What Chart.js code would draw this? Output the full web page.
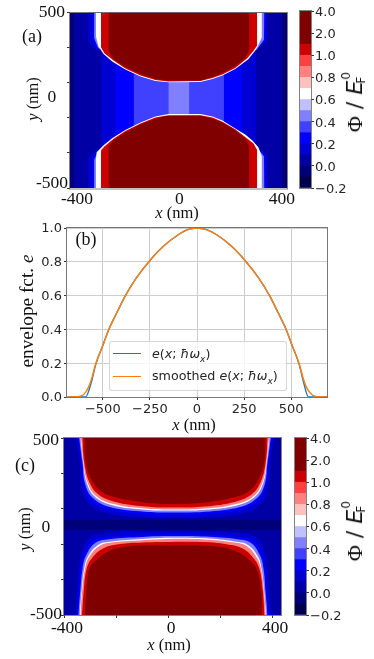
<!DOCTYPE html>
<html><head><meta charset="utf-8">
<script src="https://cdn.jsdelivr.net/npm/chart.js@4"></script>
<style>
html,body{margin:0;padding:0;background:#fff;width:374px;height:659px;overflow:hidden}
#page{position:absolute;left:0;top:0;width:374px;height:659px;filter:blur(.6px)}
canvas{position:absolute;left:0;top:0}
.t{position:absolute;white-space:nowrap;transform:translate(-50%,-50%);color:#111;font-family:"Liberation Serif",serif;line-height:1}
.r{transform:translate(-50%,-50%) rotate(-90deg)}
.s16{font-size:16.5px}.s18{font-size:18px}.s19{font-size:19.3px}
.phi{font-size:22px;font-family:"DejaVu Sans",sans-serif}
.phi b{font-weight:normal;font-family:"Liberation Serif",serif}
.phi i{font-style:italic}
.phi .f{display:inline-block;position:relative;width:9px;height:1em}
.phi .f span{position:absolute;font-size:12px;font-style:normal}
#legend{position:absolute;left:109px;top:341px;width:176px;height:48px;background:rgba(255,255,255,.8);border:1px solid rgba(204,204,204,.8);border-radius:3px}
#legend div{position:absolute;left:42px;font:12.7px "DejaVu Sans",sans-serif;color:#262626;white-space:nowrap;line-height:1}
#legend span.k{position:absolute;left:3px;width:28px;height:1.4px}
#legend sub{font-size:9px;line-height:0;font-style:italic}
</style></head><body>
<div id="page">
<canvas id="a" width="374" height="659"></canvas>
<canvas id="ab" width="374" height="659"></canvas>
<canvas id="b" width="374" height="659"></canvas>
<canvas id="c" width="374" height="659"></canvas>
<canvas id="cb" width="374" height="659"></canvas>

<div class="t s18" style="left:32px;top:36px">(a)</div>
<div class="t s18" style="left:86px;top:239px">(b)</div>
<div class="t s18" style="left:25px;top:465px">(c)</div>
<div class="t s16 r" style="left:33px;top:99px"><i>y</i> (nm)</div>
<div class="t s16" style="left:177px;top:213px"><i>x</i> (nm)</div>
<div class="t s19 r" style="left:27px;top:311px">envelope fct. <i>e</i></div>
<div class="t s16" style="left:194px;top:425px"><i>x</i> (nm)</div>
<div class="t s16 r" style="left:25px;top:529px"><i>y</i> (nm)</div>
<div class="t s16" style="left:169px;top:645px"><i>x</i> (nm)</div>
<div class="t phi r" style="left:353px;top:102px"><b>Φ</b> / <i>E</i><span class="f"><span style="top:0;left:1px">0</span><span style="top:15px;left:-3px">F</span></span></div>
<div class="t phi r" style="left:353px;top:531px"><b>Φ</b> / <i>E</i><span class="f"><span style="top:0;left:1px">0</span><span style="top:15px;left:-3px">F</span></span></div>

<div id="legend">
  <span class="k" style="top:11px;background:#1f77b4"></span>
  <div style="top:6px"><i>e</i>(<i>x</i>; <i>ħω</i><sub>x</sub>)</div>
  <span class="k" style="top:33.5px;background:#ff7f0e"></span>
  <div style="top:28px">smoothed <i>e</i>(<i>x</i>; <i>ħω</i><sub>x</sub>)</div>
</div>
</div>
<script>
/* ---------- colour scale ---------- */
const colorSteps = ['rgb(0,0,76)','rgb(0,0,120)','rgb(0,0,165)','rgb(0,0,210)','rgb(0,0,255)','rgb(64,64,255)','rgb(128,128,255)','rgb(192,192,255)','rgb(255,255,255)','rgb(255,192,192)','rgb(255,128,128)','rgb(255,64,64)','rgb(205,0,0)','rgb(128,0,0)','rgb(128,0,0)','rgb(128,0,0)'];
const colorbarLabels = ['\u22120.2','0.0','0.2','0.4','0.6','0.8','1.0','2.0','4.0'];

/* ---------- panel (a): potential contours, x nm, y nm ---------- */
const aTopMaroon = [[-277,500],[-277,280],[-257,234],[-211,189],[-152,150],[-94,121],[-43,113],[82,113],[129,133],[168,155],[218,195],[257,240],[273,291],[273,500]];
const aTopRed = [[-306,500],[-306,302],[-293,268],[-257,226],[-211,181],[-152,141],[-94,116],[-43,107],[82,110],[129,127],[168,147],[218,184],[265,240],[289,280],[304,314],[304,500]];
const aTopWhite = [[-326,500],[-326,364],[-316,308],[-296,263],[-261,220],[-211,175],[-152,136],[-94,110],[-43,102],[82,104],[129,121],[168,141],[218,178],[269,234],[300,291],[322,359],[322,500]];
const aBotMaroon = [[-277,-500],[-277,-267],[-257,-229],[-211,-184],[-152,-138],[-94,-105],[-55,-90],[82,-88],[129,-105],[168,-127],[218,-172],[257,-218],[273,-263],[273,-500]];
const aBotRed = [[-306,-500],[-306,-285],[-293,-263],[-257,-220],[-211,-175],[-152,-133],[-94,-99],[-43,-85],[82,-85],[129,-99],[168,-122],[218,-165],[257,-209],[289,-246],[304,-285],[304,-500]];
const aBotWhite = [[-326,-500],[-326,-342],[-323,-297],[-296,-257],[-261,-215],[-211,-170],[-152,-127],[-94,-93],[-43,-79],[82,-79],[129,-93],[168,-116],[218,-161],[257,-195],[285,-229],[308,-268],[322,-319],[322,-500]];
const aHaloTL = [[[-333,500],[-333,355],[-318,300],[-308,288]],[[-339,500],[-339,347],[-320,295],[-305,285]],[[-358,500],[-358,330],[-325,285],[-300,280]]];
const aHaloTR = [[[300,285],[330,345],[332,500]],[[295,280],[337,340],[337,500]],[[290,275],[345,340],[345,500]]];
const aHaloBL = [[[-333,-500],[-333,-340],[-318,-295],[-308,-280]],[[-339,-500],[-339,-335],[-320,-290],[-305,-275]],[[-358,-500],[-358,-330],[-325,-285],[-300,-270]]];
const aHaloBR = [[[300,-265],[330,-320],[332,-500]],[[295,-260],[337,-315],[337,-500]],[[290,-255],[345,-310],[345,-500]]];
const aPlateaus = [[-43,39,6],[-179,174,5],[-250,246,4],[-305,300,3],[-413,402,2],[-427,420,1]];

/* ---------- panel (b): envelope function ---------- */
const bSmoothed = [[-690,0],[-640,0],[-625,.004],[-605,.012],[-590,.03],[-575,.06],[-560,.105],[-538,.195],[-500,.305],[-468,.4],[-425,.5],[-380,.6],[-320,.708],[-252,.805],[-180,.89],[-100,.96],[-50,.99],[0,1],[50,.99],[105,.96],[185,.89],[257,.805],[325,.708],[385,.6],[430,.5],[473,.4],[505,.305],[543,.195],[565,.105],[580,.06],[597,.03],[612,.012],[630,.004],[648,0],[690,0]];
const bRaw = [[-690,0],[-592,0],[-560,.09],[-538,.19],[-500,.305],[-468,.4],[-425,.5],[-380,.6],[-320,.708],[-252,.805],[-180,.89],[-100,.96],[-50,.99],[0,1],[50,.99],[105,.96],[185,.89],[257,.805],[325,.708],[385,.6],[430,.5],[473,.4],[505,.305],[543,.19],[565,.09],[592,0],[690,0]];
const bLabels = ['smoothed e(x; ħωx)','e(x; ħωx)'];
const bXTicks = [-500,-250,0,250,500];
const bYTicks = [0,.2,.4,.6,.8,1];

/* ---------- panel (c): potential contours ---------- */
const cTopMaroon = [[-322,500],[-316,360],[-294,264],[-256,198],[-193,162],[-89,136],[15,127],[142,136],[246,162],[309,198],[347,264],[369,360],[375,500]];
const cTopRed = [[-330,500],[-322,360],[-304,255],[-270,183],[-206,140],[-89,113],[15,107],[142,113],[259,140],[323,183],[357,255],[375,360],[383,500]];
const cTopPink = [[-335,500],[-325,360],[-310,250],[-278,174],[-213,128],[-89,101],[15,96],[142,101],[266,128],[331,174],[363,250],[378,360],[388,500]];
const cTopWhite = [[-337,500],[-326,360],[-313,247],[-282,170],[-217,122],[-89,95],[15,90],[142,95],[270,122],[335,170],[366,247],[379,360],[390,500]];
const cTopLight = [[-342,500],[-329,360],[-319,242],[-290,162],[-224,110],[-89,83],[15,79],[142,83],[277,110],[343,162],[372,242],[382,360],[395,500]];
const cTopBlue = [[-346,500],[-332,360],[-324,237],[-298,153],[-231,98],[-89,70],[15,68],[142,70],[284,98],[351,153],[377,237],[385,360],[399,500]];
const cTopDeep = [[-354,500],[-340,360],[-334,228],[-311,139],[-243,78],[-89,50],[15,48],[142,50],[296,78],[364,139],[387,228],[393,360],[407,500]];
const cBotMaroon = [[-320,-500],[-314,-359],[-304,-245],[-282,-198],[-231,-142],[-155,-113],[7,-107],[184,-113],[265,-142],[319,-198],[342,-245],[358,-359],[363,-500]];
const cBotRed = [[-331,-500],[-324,-359],[-314,-245],[-296,-185],[-252,-125],[-190,-100],[-100,-90],[7,-87],[142,-88],[225,-100],[288,-125],[332,-185],[352,-245],[364,-359],[371,-500]];
const cBotPink = [[-337,-500],[-330,-359],[-320,-245],[-305,-175],[-264,-110],[-210,-89],[-100,-77],[7,-70],[142,-73],[247,-89],[302,-110],[341,-175],[358,-245],[368,-359],[376,-500]];
const cBotWhite = [[-340,-500],[-332,-359],[-323,-245],[-308,-170],[-269,-104],[-217,-85],[-100,-71],[7,-64],[142,-67],[255,-85],[307,-104],[345,-170],[360,-245],[369,-359],[377,-500]];
const cBotLight = [[-345,-500],[-337,-359],[-329,-241],[-315,-163],[-280,-93],[-229,-72],[-100,-59],[7,-54],[142,-57],[267,-72],[319,-93],[353,-163],[367,-241],[374,-359],[382,-500]];
const cBotBlue = [[-350,-500],[-342,-359],[-335,-238],[-322,-155],[-290,-82],[-240,-61],[-100,-49],[7,-44],[142,-47],[278,-61],[330,-82],[360,-155],[372,-238],[379,-359],[387,-500]];
const cBotDeep = [[-358,-500],[-350,-359],[-344,-230],[-332,-143],[-304,-66],[-254,-40],[-100,-30],[7,-27],[142,-28],[292,-40],[345,-66],[372,-143],[382,-230],[388,-359],[396,-500]];
const cTrough = [[-400,37],[434,37]];
const cTroughBottom = -19;
const cSurround = [[-400,500],[434,500]];

/* ---------- tick labels ---------- */
const heatXLabels = ['-400','0','400'];
const heatXLabelValues = [-400,0,400];
const heatYLabels = ['500','0','-500'];
const heatYLabelValues = [500,0,-500];
const heatYTickMarks = [500,300,100,-100,-300,-500];
const cXTickMarks = [-400,-200,0,200,400];

/* ---------- drawing ---------- */
Chart.defaults.animation = false;
const serif = {family:'"Liberation Serif",serif',size:17.5};
const sans = {family:'"DejaVu Sans",sans-serif',size:13};
const frame = color => ({id:'frame',afterDatasetsDraw(ch){
  const a = ch.chartArea, c = ch.ctx; c.save(); c.strokeStyle = color; c.lineWidth = 1;
  c.strokeRect(Math.round(a.left)+.5-1,Math.round(a.top)+.5-1,a.right-a.left+1,a.bottom-a.top+1); c.restore();
}});
const pts = list => list.map(([x,y]) => ({x,y}));
const layer = (list,color,fill,smooth) => ({data:pts(list),backgroundColor:color,borderWidth:0,pointRadius:0,fill,
  tension: smooth ? .4 : 0,xAxisID:'x',yAxisID:'y'});
const fixTicks = values => s => { s.ticks = values.map(value => ({value})); };
const widthOf = w => s => { s.width = w; };
const heightOf = h => s => { s.height = h; };
const box = (l,t,r,b,yw,xh) => ({padding:{left:l-yw,top:t,right:374-r,bottom:659-b-xh}});

function heatChart(id,datasets,o){
  return new Chart(document.getElementById(id),{
    type:'line',
    data:{datasets},
    plugins:[frame('rgba(90,90,90,.75)')],
    options:{responsive:false,maintainAspectRatio:false,
      layout:box(o.l,o.t,o.r,o.b,50,32),
      plugins:{legend:{display:false},tooltip:{enabled:false}},
      scales:{
        x:{type:'linear',position:'bottom',min:o.xMin,max:o.xMax,border:{display:false},
          grid:{drawOnChartArea:false,drawTicks:o.xMarks,tickLength:o.xMarks?3:0,tickColor:'#333'},
          afterBuildTicks:fixTicks(o.xMarks?cXTickMarks:heatXLabelValues),
          afterFit:heightOf(32),
          ticks:{autoSkip:false,maxRotation:0,font:serif,color:'#111',padding:o.xPad,labelOffset:o.xShift,
            callback:v=>{const i=heatXLabelValues.indexOf(v);return i<0?'':heatXLabels[i];}}},
        y:{type:'linear',position:'left',min:-500,max:500,weight:0,border:{display:false},
          grid:{drawOnChartArea:false,tickLength:3,tickColor:'#333'},
          afterBuildTicks:fixTicks(heatYTickMarks),afterFit:widthOf(0),ticks:{display:false}},
        yLabels:{type:'linear',axis:'y',position:'left',min:o.lMin,max:o.lMax,weight:1,border:{display:false},
          grid:{display:false,drawTicks:false},
          afterBuildTicks:fixTicks(heatYLabelValues),afterFit:widthOf(50),
          ticks:{autoSkip:false,font:serif,color:'#111',crossAlign:'center',padding:o.yPad,
            callback:v=>heatYLabels[heatYLabelValues.indexOf(v)]}}
      }}});
}

function colorbar(id,o){
  return new Chart(document.getElementById(id),{
    type:'bar',
    data:{labels:[''],datasets:colorSteps.map(c=>({data:[1],backgroundColor:c,borderWidth:0,barPercentage:1,categoryPercentage:1}))},
    plugins:[frame('rgba(90,90,90,.75)')],
    options:{responsive:false,maintainAspectRatio:false,
      layout:{padding:{left:o.l,top:o.t,right:374-o.r-40,bottom:659-o.b}},
      plugins:{legend:{display:false},tooltip:{enabled:false}},
      scales:{
        x:{display:false,stacked:true},
        y:{stacked:true,position:'right',min:0,max:colorSteps.length,border:{display:false},
          grid:{drawOnChartArea:false,tickLength:3,tickColor:'#333'},
          afterBuildTicks:fixTicks(colorbarLabels.map((_,i)=>i*colorSteps.length/(colorbarLabels.length-1))),
          afterFit:widthOf(40),
          ticks:{autoSkip:false,font:sans,color:'#262626',padding:1,labelOffset:1.5,
            callback:(v,i)=>colorbarLabels[i]}}
      }}});
}

const s = colorSteps;
heatChart('a',[
  layer(aTopMaroon,s[13],'end'),layer(aBotMaroon,s[13],'start'),
  layer(aTopRed,s[12],'end'),layer(aBotRed,s[12],'start'),
  layer(aTopWhite,s[8],'end'),layer(aBotWhite,s[8],'start'),
  ...[6,4,3].flatMap((c,i)=>[
    layer(aHaloTL[i],s[c],'end'),layer(aHaloTR[i],s[c],'end'),
    layer(aHaloBL[i],s[c],'start'),layer(aHaloBR[i],s[c],'start')]),
  ...aPlateaus.map(([lo,hi,c])=>layer([[lo,500],[hi,500]],s[c],'start'))
],{l:70,t:11,r:287,b:188,xMin:-427,xMax:420,xMarks:false,xPad:1,xShift:0,lMin:-529,lMax:500,yPad:2});

heatChart('c',[
  layer(cTopMaroon,s[13],'end',1),layer(cBotMaroon,s[13],'start',1),
  layer(cTopRed,s[12],'end',1),layer(cBotRed,s[12],'start',1),
  layer(cTopPink,s[10],'end',1),layer(cBotPink,s[10],'start',1),
  layer(cTopWhite,s[8],'end',1),layer(cBotWhite,s[8],'start',1),
  layer(cTopLight,s[6],'end',1),layer(cBotLight,s[6],'start',1),
  layer(cTopBlue,s[4],'end',1),layer(cBotBlue,s[4],'start',1),
  layer(cTopDeep,s[3],'end',1),layer(cBotDeep,s[3],'start',1),
  layer(cTrough,s[1],{value:cTroughBottom}),
  layer(cSurround,s[2],'start')
],{l:64,t:438,r:281,b:615,xMin:-400,xMax:434,xMarks:true,xPad:0,xShift:3,lMin:-505,lMax:515,yPad:2});

colorbar('ab',{l:300,t:11,r:311,b:188});
colorbar('cb',{l:295,t:438,r:306,b:615});

new Chart(document.getElementById('b'),{
  type:'line',
  data:{datasets:[
    {label:bLabels[0],data:pts(bSmoothed),borderColor:'#ff7f0e',borderWidth:1.4,pointRadius:0,fill:false,cubicInterpolationMode:'monotone'},
    {label:bLabels[1],data:pts(bRaw),borderColor:'#1f77b4',borderWidth:1.4,pointRadius:0,fill:false,cubicInterpolationMode:'monotone'}
  ]},
  plugins:[frame('#777')],
  options:{responsive:false,maintainAspectRatio:false,
    layout:box(67,228,327,397,30,24),
    plugins:{legend:{display:false},tooltip:{enabled:false}},
    scales:{
      x:{type:'linear',min:-690,max:690,border:{display:false},
        grid:{color:'rgb(205,205,205)',lineWidth:1,tickLength:3,tickColor:'#333'},
        afterBuildTicks:fixTicks(bXTicks),afterFit:heightOf(24),
        ticks:{autoSkip:false,maxRotation:0,font:sans,color:'#262626',padding:2,
          callback:v=>v<0?'\u2212'+Math.abs(v):String(v)}},
      y:{type:'linear',min:0,max:1,border:{display:false},
        grid:{color:'rgb(205,205,205)',lineWidth:1,tickLength:3,tickColor:'#333'},
        afterBuildTicks:fixTicks(bYTicks),afterFit:widthOf(30),
        ticks:{autoSkip:false,font:sans,color:'#262626',padding:2,labelOffset:1,callback:v=>v.toFixed(1)}}
    }}});
</script>
</body></html>
